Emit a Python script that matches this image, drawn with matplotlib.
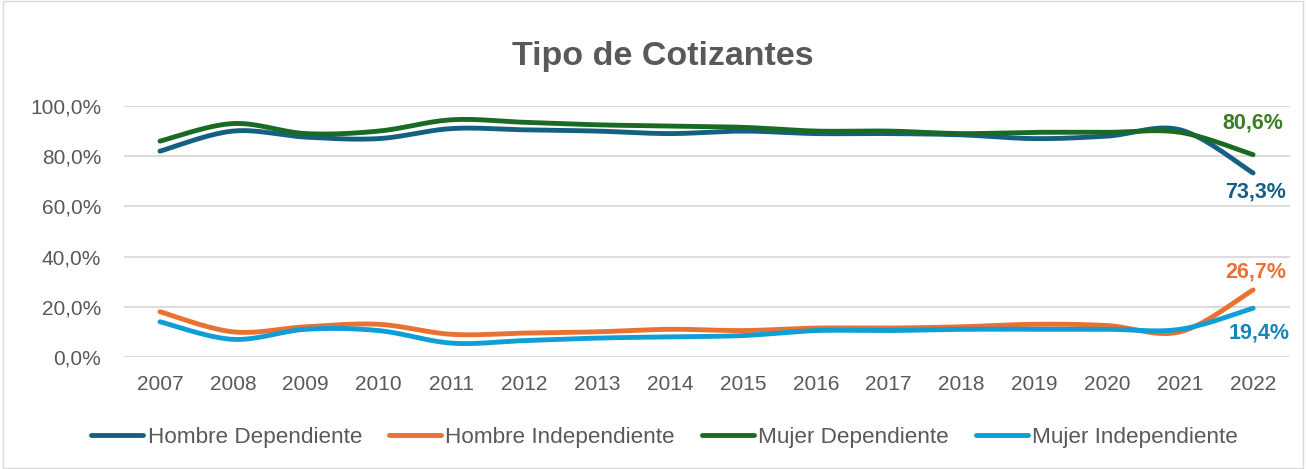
import numpy as np
import matplotlib
matplotlib.use("Agg")
import matplotlib.pyplot as plt
from matplotlib.patches import Rectangle

years = list(range(2007, 2023))
hombre_dep = [82.0, 90.0, 87.6, 87.0, 91.0, 90.5, 90.0, 89.0, 90.0, 89.0, 89.0, 88.5, 87.0, 88.0, 90.5, 73.3]
hombre_ind = [18.0, 10.0, 12.0, 13.0, 9.0, 9.5, 10.0, 11.0, 10.5, 11.5, 11.5, 12.0, 13.0, 12.5, 10.0, 26.7]
mujer_dep = [86.0, 93.0, 89.0, 90.0, 94.5, 93.5, 92.5, 92.0, 91.5, 90.0, 90.0, 89.0, 89.5, 89.5, 89.5, 80.6]
mujer_ind = [14.0, 7.0, 11.0, 10.5, 5.5, 6.5, 7.5, 8.0, 8.5, 10.5, 10.5, 11.0, 11.0, 11.0, 11.0, 19.4]

names = ["Hombre Dependiente", "Hombre Independiente", "Mujer Dependiente", "Mujer Independiente"]
colors = ["#156082", "#E97132", "#196B24", "#0F9ED5"]
label_colors = ["#156082", "#E97132", "#3B7D23", "#1287BA"]
series = [hombre_dep, hombre_ind, mujer_dep, mujer_ind]


def smooth(x, y, n=30):
    """Catmull-Rom style smoothing similar to Excel smoothed lines."""
    x = np.asarray(x, float)
    y = np.asarray(y, float)
    px = np.concatenate([[x[0]], x, [x[-1]]])
    py = np.concatenate([[y[0]], y, [y[-1]]])
    xs, ys = [], []
    for i in range(1, len(px) - 2):
        p0 = np.array([px[i - 1], py[i - 1]])
        p1 = np.array([px[i], py[i]])
        p2 = np.array([px[i + 1], py[i + 1]])
        p3 = np.array([px[i + 2], py[i + 2]])
        c1 = p1 + (p2 - p0) / 6.0
        c2 = p2 - (p3 - p1) / 6.0
        t = np.linspace(0, 1, n)[:, None]
        pts = ((1 - t) ** 3) * p1 + 3 * ((1 - t) ** 2) * t * c1 + 3 * (1 - t) * t ** 2 * c2 + t ** 3 * p2
        xs.append(pts[:, 0])
        ys.append(pts[:, 1])
    return np.concatenate(xs), np.concatenate(ys)


plt.rcParams['font.family'] = ['Liberation Sans', 'DejaVu Sans']

fig = plt.figure(figsize=(13.06, 4.69), dpi=100)
ax = fig.add_axes([0.0946, 0.239, 0.8928, 0.535])

for vals, name, c in zip(series, names, colors):
    sx, sy = smooth(years, vals)
    ax.plot(sx, sy, color=c, lw=3.5, solid_capstyle='round', label=name)

ax.set_xlim(2006.5, 2022.5)
ax.set_ylim(0, 100)
ax.set_xticks(years)
ax.set_xticklabels([str(y) for y in years], fontsize=15, color="#595959")
yt = [0, 20, 40, 60, 80, 100]
ax.set_yticks(yt)
ax.set_yticklabels([f"{v:.1f}%".replace(".", ",") for v in yt], fontsize=15, color="#595959")
ax.tick_params(axis='y', length=0, pad=16)
ax.tick_params(axis='x', length=0, pad=13)
ax.grid(axis='y', color="#d9d9d9", lw=1.3)
ax.set_axisbelow(True)
for s in ax.spines.values():
    s.set_visible(False)

# end labels (offsets in points relative to the last point)
offsets = [(2, -17.3), (2, 8.6), (0, 18.7), (4, -21.6)]
for vals, lc, (dx, dy) in zip(series, label_colors, offsets):
    v = vals[-1]
    ax.annotate(f"{v:.1f}%".replace(".", ","), (years[-1], v), xytext=(dx, dy),
                textcoords='offset points', ha='center', va='baseline',
                fontsize=15.5, fontweight='bold', color=lc, annotation_clip=False)

fig.text(0.5077, 1 - 65 / 469, "Tipo de Cotizantes", ha='center', va='baseline',
         fontsize=24.5, fontweight='bold', color="#595959")

leg = fig.legend(loc='center', bbox_to_anchor=(0.509, 0.068), ncol=4, frameon=False,
                 fontsize=16.2, handlelength=2.3, handletextpad=0.2, columnspacing=1.2)
for t in leg.get_texts():
    t.set_color("#595959")
for h in leg.get_lines():
    h.set_linewidth(3.5)
    h.set_solid_capstyle('round')

fig.patches.append(Rectangle((0.002, 0.003), 0.996, 0.994, transform=fig.transFigure,
                             fill=False, edgecolor="#d9d9d9", lw=1))

fig.savefig("out.png", dpi=100, facecolor='white')
